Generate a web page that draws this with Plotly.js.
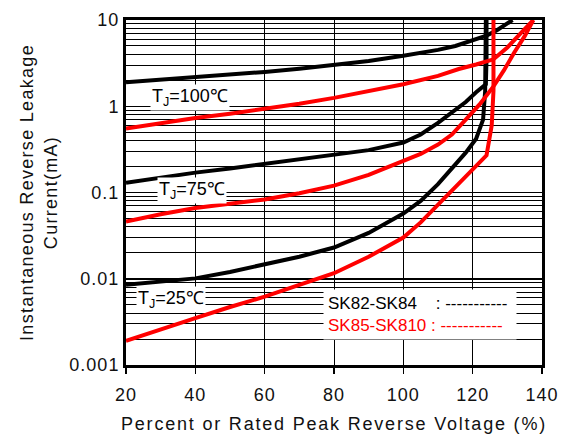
<!DOCTYPE html>
<html><head><meta charset="utf-8">
<script src="https://cdn.plot.ly/plotly-3.0.1.min.js"></script>
<style>
html,body{margin:0;padding:0;background:#fff;}
#chart{width:572px;height:434px;}
.xtitle{letter-spacing:1.8px;}
.ytitle{letter-spacing:1.3px;}
.xtick text,.ytick text{letter-spacing:1px;}
</style></head><body><div id="chart"></div>
<script>
// Axis ticks
const voltTicks = [20, 40, 60, 80, 100, 120, 140];
const currentTickVals = [0.001, 0.01, 0.1, 1, 10];
const currentTickText = ['0.001', '0.01', '0.1', '1', '10'];

// SK82-SK84 (black)
const blk100_x = [20, 30, 40, 50, 60, 70, 80, 90, 100, 110, 115, 120, 124, 127, 129, 131.5];
const blk100_y = [1.9, 2.03, 2.17, 2.32, 2.5, 2.72, 3.0, 3.35, 3.85, 4.5, 5.0, 5.8, 6.6, 7.6, 8.6, 10];
const blk75_x = [20, 30, 40, 50, 60, 70, 80, 90, 100, 105, 110, 114, 118, 121, 123.8, 124, 124];
const blk75_y = [0.13, 0.15, 0.17, 0.19, 0.215, 0.24, 0.27, 0.31, 0.38, 0.47, 0.64, 0.85, 1.12, 1.45, 1.8, 3.5, 10];
const blk25_x = [20, 30, 40, 50, 60, 70, 80, 90, 100, 105, 110, 114, 118, 121, 123, 123.6, 123.8];
const blk25_y = [0.0085, 0.0092, 0.0101, 0.012, 0.0145, 0.018, 0.023, 0.034, 0.057, 0.08, 0.125, 0.19, 0.29, 0.42, 0.7, 1.5, 10];

// SK85-SK810 (red)
const red100_x = [20, 30, 40, 50, 60, 70, 80, 90, 100, 110, 116, 121, 126, 130, 134, 137.5];
const red100_y = [0.55, 0.64, 0.73, 0.82, 0.93, 1.07, 1.25, 1.48, 1.8, 2.25, 2.7, 3.05, 3.5, 4.8, 7.0, 10];
const red75_x = [20, 30, 40, 50, 60, 70, 80, 90, 100, 105, 110, 114, 118, 122, 126, 129, 132, 135, 137.5];
const red75_y = [0.046, 0.056, 0.066, 0.074, 0.083, 0.098, 0.12, 0.16, 0.23, 0.28, 0.36, 0.47, 0.7, 1.05, 1.7, 2.6, 4.2, 6.5, 10];
const red25_x = [20, 30, 40, 50, 60, 70, 80, 90, 100, 105, 110, 114, 118, 121, 124, 125.5, 126, 126];
const red25_y = [0.0019, 0.0026, 0.0035, 0.0047, 0.0062, 0.0085, 0.0116, 0.018, 0.03, 0.045, 0.072, 0.105, 0.15, 0.2, 0.27, 0.6, 1.5, 10];

// Temperature labels
const tempLabels = ['T<sub>J</sub>=100℃', 'T<sub>J</sub>=75℃', 'T<sub>J</sub>=25℃'];
const tempLabelX = [38.5, 39.0, 33.0];
const tempLabelY = [1.25, 0.106, 0.0058];

const seriesNames = ['SK82-SK84', 'SK85-SK810'];
const seriesColors = ['#000000', '#ff0000'];

// minor grid values (2..9 per decade)
const minorVals = [];
for (let e = -3; e < 1; e++) for (let d = 2; d <= 9; d++) minorVals.push(d * Math.pow(10, e));

function tr(x, y, c) {
  return {x: x, y: y, type: 'scatter', mode: 'lines', line: {color: c, width: 4},
          hoverinfo: 'skip', showlegend: false};
}
const data = [
  tr(blk100_x, blk100_y, seriesColors[0]),
  tr(blk75_x, blk75_y, seriesColors[0]),
  tr(blk25_x, blk25_y, seriesColors[0]),
  tr(red100_x, red100_y, seriesColors[1]),
  tr(red75_x, red75_y, seriesColors[1]),
  tr(red25_x, red25_y, seriesColors[1])
];

const font = 'Liberation Sans, Arial, sans-serif';
const annotations = tempLabels.map((t, i) => ({
  x: tempLabelX[i], y: Math.log10(tempLabelY[i]), xref: 'x', yref: 'y',
  text: t, showarrow: false, bgcolor: '#ffffff', borderpad: 1,
  font: {family: font, size: 18, color: '#000'}, xanchor: 'center', yanchor: 'middle'
}));
const nb = '\u00A0';
annotations.push({
  x: 76.8, y: -2.414, xref: 'x', yref: 'y', xanchor: 'left', yanchor: 'middle',
  showarrow: false, bgcolor: '#ffffff', borderpad: 4, align: 'left',
  font: {family: font, size: 17, color: seriesColors[0]},
  text: seriesNames[0] + nb + nb + nb + nb + ': -----------' + nb + '<br>' +
        '<span style="color:' + seriesColors[1] + '">' + seriesNames[1] + nb + ': -----------</span>' + nb
});

const layout = {
  width: 572, height: 434,
  margin: {l: 126, r: 30, t: 20, b: 69},
  paper_bgcolor: '#fff', plot_bgcolor: '#fff',
  font: {family: font, color: '#000'},
  showlegend: false,
  xaxis: {
    range: [20, 140], tickmode: 'array', tickvals: voltTicks,
    showgrid: true, gridcolor: '#000', gridwidth: 1,
    showline: true, mirror: true, linecolor: '#000', linewidth: 3,
    ticks: 'outside', ticklen: 6, tickwidth: 1.5, tickcolor: '#000',
    ticklabelstandoff: 5,
    zeroline: false,
    tickfont: {family: font, size: 18, color: '#111'},
    title: {text: 'Percent or Rated Peak Reverse Voltage (%)', standoff: 15,
            font: {family: font, size: 18, color: '#111'}}
  },
  yaxis: {
    type: 'log', range: [-3, 1], tickmode: 'array', tickvals: currentTickVals, ticktext: currentTickText,
    showgrid: true, gridcolor: '#000', gridwidth: 1.5,
    showline: true, mirror: true, linecolor: '#000', linewidth: 3,
    ticks: '', zeroline: false,
    minor: {tickmode: 'array', tickvals: minorVals, showgrid: true, gridcolor: '#000', gridwidth: 1, ticks: ''},
    tickfont: {family: font, size: 18, color: '#111'},
    title: {text: 'Instantaneous Reverse Leakage<br>Current(mA)', standoff: 8,
            font: {family: font, size: 18, color: '#111'}}
  },
  annotations: annotations
};

Plotly.newPlot('chart', data, layout, {displayModeBar: false, staticPlot: true});
</script></body></html>
